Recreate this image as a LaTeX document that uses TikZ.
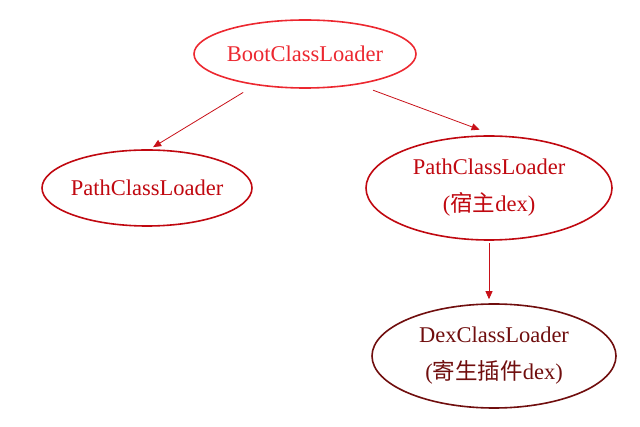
\documentclass[tikz,border=0pt]{standalone}
\usepackage{fontspec}
\setmainfont{Liberation Serif}
\newfontfamily\cjk{Noto Sans CJK SC}
\usepackage{tikz}
\usetikzlibrary{arrows.meta,positioning,shapes.geometric}
\definecolor{bootred}{RGB}{236,40,48}
\definecolor{pathred}{RGB}{192,8,16}
\definecolor{dexbrown}{RGB}{112,14,14}
\definecolor{arrowred}{RGB}{200,16,24}
\tikzset{
  loaderbox/.style={ellipse, line width=1.6pt, inner sep=-8pt, align=center,
    font=\fontsize{22.5}{37}\selectfont},
  bootbox/.style={loaderbox, draw=bootred, text=bootred},
  pathbox/.style={loaderbox, draw=pathred, text=pathred},
  dexbox/.style={loaderbox, draw=dexbrown, text=dexbrown},
  flow/.style={-{Triangle[length=8pt,width=7pt]}, line width=0.8pt, draw=arrowred}
}
\begin{document}
\begin{tikzpicture}[x=1pt,y=-1pt]
\useasboundingbox (0,0) rectangle (640,427);
\node[bootbox, minimum width=222pt, minimum height=68pt] (boot) at (305,54) {BootClassLoader};
\node[pathbox, minimum width=210pt, minimum height=76pt] (host) at (147,188) {PathClassLoader};
\node[pathbox, minimum width=246pt, minimum height=104pt] (hostdex) at (489,188) {PathClassLoader\\({\cjk 宿主}dex)};
\node[dexbox, minimum width=244pt, minimum height=104pt] (plugin) at (494,356) {DexClassLoader\\({\cjk 寄生插件}dex)};

\draw[flow, shorten <=14pt, shorten >=4pt] (boot.212) -- (host.86);
\draw[flow, shorten <=16pt, shorten >=16pt] (boot.330) -- (hostdex.84);
\draw[flow, shorten <=2pt, shorten >=4pt] (hostdex.south) -- (hostdex.south |- plugin.north);
\end{tikzpicture}
\end{document}
